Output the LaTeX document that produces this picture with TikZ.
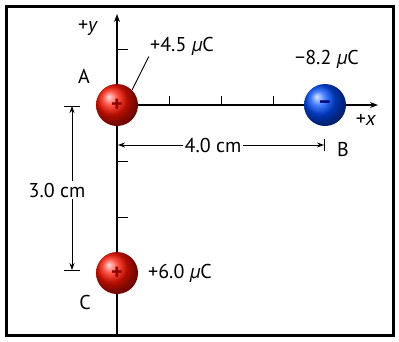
\documentclass[tikz,border=0pt]{standalone}
\usepackage{fontspec}
\setmainfont{PT Sans}
\usetikzlibrary{arrows.meta}
\tikzset{
  lbl/.style={font=\fontsize{20}{24}\selectfont, inner sep=1pt},
  sign/.style={font=\fontsize{22}{24}\selectfont\bfseries},
  poscharge/.style={circle, minimum size=42pt, inner sep=0pt, shading=ball, ball color=red!85!orange, sign, text=red!55!black},
  negcharge/.style={circle, minimum size=42pt, inner sep=0pt, shading=ball, ball color=blue!70!cyan, sign, text=blue!45!black},
  dimarrow/.style={line width=0.8pt, -{Stealth[length=7pt,width=5pt]}}
}
\begin{document}
\begin{tikzpicture}[x=1pt,y=-1pt, line width=0.9pt]
  \useasboundingbox (0,0) rectangle (399,341);
  \draw[line width=3pt] (6,6) rectangle (393,335);

  % axes
  \coordinate (O) at (117,105);
  \draw[line width=1.1pt, -{Stealth[length=8pt,width=6pt]}] (117,335) -- (117,14);
  \draw[line width=1.1pt, -{Stealth[length=8pt,width=6pt]}] (O) -- (378,105);
  \foreach \x in {169,221,273}
  \draw[shift={(\x,105)}] (0pt,0pt) -- (0pt,9pt);
  \foreach \y in {49,161,217}
  \draw[shift={(117,\y)}] (0pt,0pt) -- (11pt,0pt);

  % charges
  \node[poscharge] (A) at (117,105) {+};
  \node[negcharge] (B) at (325,105) {−};
  \node[poscharge] (C) at (117,273) {+};

  % labels
  \node[lbl] (ylab) at (88,28) {+\textit{y}};
  \node[lbl] (xlab) at (366,120) {+\textit{x}};
  \node[lbl] (Alab) at (84,76) {A};
  \node[lbl] (Blab) at (343,149) {B};
  \node[lbl] (Clab) at (85,302) {C};
  \node[lbl] (qA) at (182,46) {+4.5 \textit{µ}C};
  \node[lbl] (qB) at (327,59) {−8.2 \textit{µ}C};
  \node[lbl] (qC) at (180,273) {+6.0 \textit{µ}C};
  \draw (A.45) -- (qA.south west);

  % 4.0 cm
  \node[lbl, fill=white] (dx) at (213,145) {4.0 cm};
  \coordinate (dxl) at (118,145);
  \coordinate (dxr) at (324,145);
  \draw[dimarrow] (dx) -- (dxl);
  \draw[dimarrow] (dx) -- (dxr);
  \draw (324,139) -- (324,151);

  % 3.0 cm
  \node[lbl, fill=white] (dy) at (57,190) {3.0 cm};
  \coordinate (dyt) at (72,106);
  \coordinate (dyb) at (72,270);
  \draw[dimarrow] (dy.north -| dyt) -- (dyt);
  \draw[dimarrow] (dy.south -| dyb) -- (dyb);
  \draw (64,106) -- (80,106);
  \draw (64,270) -- (80,270);
\end{tikzpicture}
\end{document}
